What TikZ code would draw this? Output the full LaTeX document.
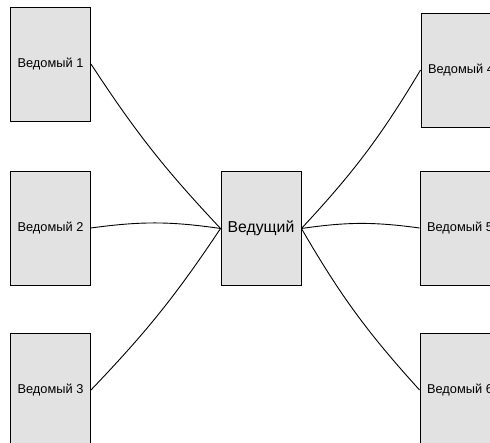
\documentclass[tikz,border=0pt]{standalone}
\usepackage{fontspec}
\setmainfont{Liberation Sans}
\definecolor{boxgray}{RGB}{226,226,226}
\begin{document}
\begin{tikzpicture}[x=1pt, y=1pt,
    slave/.style={draw, fill=boxgray, line width=0.9pt, minimum width=80pt, minimum height=114pt,
        inner sep=0pt, font=\fontsize{12.8}{15}\selectfont},
    master/.style={slave, font=\fontsize{15.8}{18}\selectfont},
    wire/.style={line width=0.9pt}]
    \clip (0,0) rectangle (490,443);

    \node[slave]  (s1) at (50.5,379) {Ведомый 1};
    \node[slave]  (s2) at (50.5,215) {Ведомый 2};
    \node[slave]  (s3) at (50.5,53)  {Ведомый 3};

    \node[master] (m)  at (261,214.5) {Ведущий};

    \node[slave]  (s4) at (461,373) {Ведомый 4};
    \node[slave]  (s5) at (460,215) {Ведомый 5};
    \node[slave]  (s6) at (460,53)  {Ведомый 6};

    \draw[wire] (s1.east) to[bend right=5] (m.west);
    \draw[wire] (s2.east) to[bend left=8]  (m.west);
    \draw[wire] (s3.east) to[bend right=5] (m.west);
    \draw[wire] (m.east) to[bend right=6] (s4.west);
    \draw[wire] (m.east) to[bend left=8]  (s5.west);
    \draw[wire] (m.east) to[bend right=6] (s6.west);
\end{tikzpicture}
\end{document}
